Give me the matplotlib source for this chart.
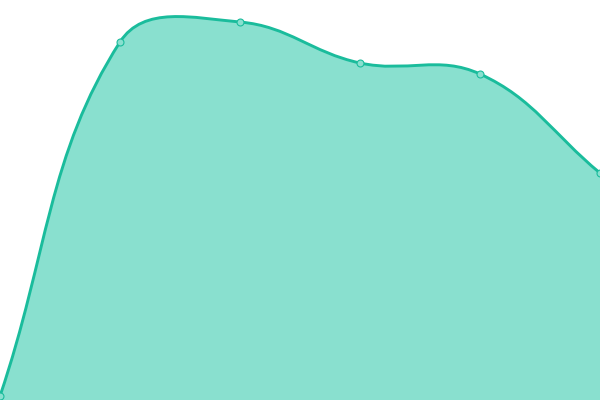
import matplotlib
matplotlib.use("Agg")
import matplotlib.pyplot as plt
import numpy as np
from matplotlib.path import Path
from matplotlib.patches import PathPatch

labels = ["A", "B", "C", "D", "E", "F"]
values = [4, 358, 378, 337, 326, 227]

LINE = "#1abc9c"
FILL = "#89e0cf"
TENSION = 0.4

fig = plt.figure(figsize=(6, 4), dpi=100)
ax = fig.add_axes([0, 0, 1, 1])
ax.set_xlim(0, len(labels) - 1)
ax.set_ylim(0, 400)
ax.axis("off")

xs = np.arange(len(labels))
pts = ax.transData.transform(np.column_stack([xs, values]))

# Chart.js-style spline control points in display space
n = len(pts)
cps = []
for i in range(n):
    cur = pts[i]
    prev = pts[i - 1] if i > 0 else cur
    nxt = pts[i + 1] if i < n - 1 else cur
    d01 = np.hypot(*(cur - prev))
    d12 = np.hypot(*(nxt - cur))
    tot = d01 + d12
    s01 = d01 / tot if tot else 0
    s12 = d12 / tot if tot else 0
    fa = TENSION * s01
    fb = TENSION * s12
    cp_prev = cur - fa * (nxt - prev)
    cp_next = cur + fb * (nxt - prev)
    cps.append((cp_prev, cp_next))

verts = [pts[0]]
codes = [Path.MOVETO]
for i in range(n - 1):
    verts += [cps[i][1], cps[i + 1][0], pts[i + 1]]
    codes += [Path.CURVE4] * 3

inv = ax.transData.inverted()
verts_d = inv.transform(np.array(verts))

line_path = Path(verts_d, codes)
fill_verts = list(verts_d) + [[xs[-1], 0], [xs[0], 0], verts_d[0]]
fill_codes = codes + [Path.LINETO, Path.LINETO, Path.CLOSEPOLY]
fill_path = Path(fill_verts, fill_codes)

ax.add_patch(PathPatch(fill_path, facecolor=FILL, edgecolor="none", zorder=1))
ax.add_patch(PathPatch(line_path, facecolor="none", edgecolor=LINE, lw=2.1, zorder=2, clip_on=False))
ax.plot(xs, values, linestyle="none", marker="o", markersize=5,
        markerfacecolor=FILL, markeredgecolor=LINE, markeredgewidth=0.8, zorder=3, clip_on=False)

fig.savefig("out.png", dpi=100)
